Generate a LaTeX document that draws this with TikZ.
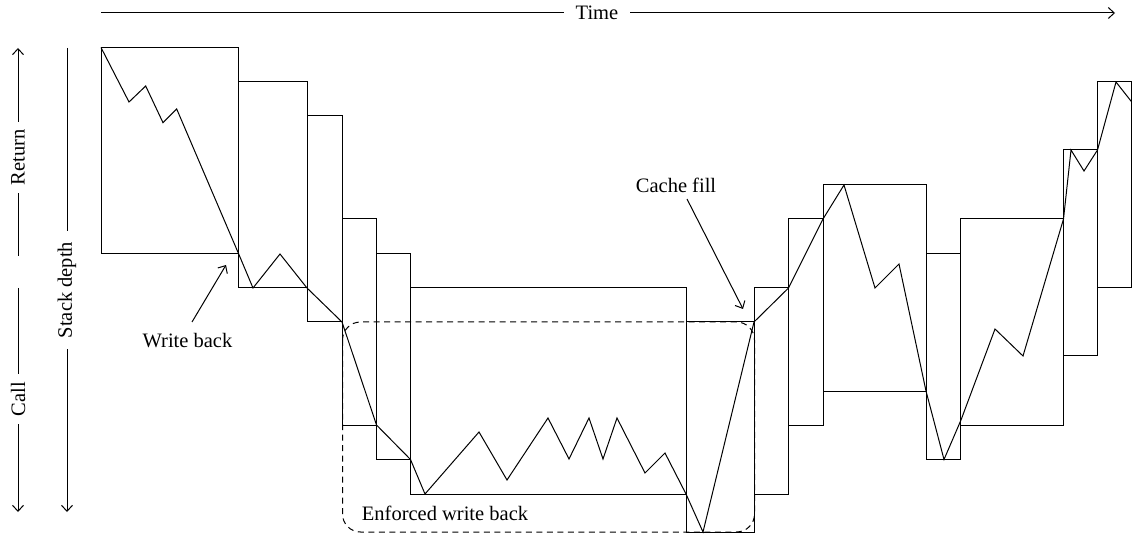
\documentclass[tikz,border=0pt]{standalone}
\usepackage{fontspec}
\setmainfont{Liberation Serif}
\usetikzlibrary{arrows.meta}
\begin{document}
\begin{tikzpicture}[x=1pt,y=-1pt,line width=1pt,
  box/.style={draw,line width=1pt},
  trace/.style={draw,line width=1pt,line join=miter},
  lbl/.style={font=\fontsize{20.5}{24}\selectfont,inner sep=0pt},
  tipped/.style={-{Straight Barb[length=6pt,width=11pt]}},
  axlbl/.style={lbl,fill=white,rotate=90,inner xsep=8pt},
  encl/.style={draw,dashed,dash pattern=on 6pt off 4.5pt,rounded corners=18pt}
]
\useasboundingbox (0,0) rectangle (1133,537);

% axes
\coordinate (tl) at (101,13);
\coordinate (tr) at (1115,13);
\draw[tipped] (tl) -- (tr);
\node[lbl,fill=white,inner xsep=12pt] (time) at (597,13) {Time};

\coordinate (rb) at (18,256);
\coordinate (rt) at (18,48);
\draw[tipped] (rb) -- (rt);
\node[axlbl] (ret) at (18,157.5) {Return};

\coordinate (ct) at (18,288);
\coordinate (cb) at (18,512);
\draw[tipped] (ct) -- (cb);
\node[axlbl] (call) at (18,399) {Call};

\coordinate (st) at (67,48);
\coordinate (sb) at (67,512);
\draw[tipped] (st) -- (sb);
\node[axlbl,inner xsep=11pt] (sd) at (67,290) {Stack depth};

% stack frames
\draw[box] (101,47.5) rectangle (238.5,253.5);
\draw[box] (238.5,82) rectangle (307,288);
\draw[box] (307,116) rectangle (342,322);
\draw[box] (342,219) rectangle (376.5,425);
\draw[box] (376.5,254) rectangle (410.5,459.5);
\draw[box] (410.5,288) rectangle (686,494);
\draw[box] (686,322) rectangle (754,532);
\draw[box] (754,288) rectangle (788.5,494);
\draw[box] (788.5,219) rectangle (823,425.5);
\draw[box] (823,185) rectangle (926,391);
\draw[box] (926,253.5) rectangle (960.5,459.5);
\draw[box] (960.5,219) rectangle (1063.5,425.5);
\draw[box] (1063.5,150) rectangle (1097.5,356);
\draw[box] (1097.5,82) rectangle (1131.5,288);

% stack depth trace
\draw[trace] (101,47.5) -- (129,102) -- (145.7,86) -- (163,122.7) -- (176.7,109)
  -- (238.5,253.5) -- (253,288) -- (280,254) -- (307,288) -- (342,322)
  -- (376.5,425) -- (410.5,459.5) -- (425,494) -- (479,432) -- (507,480)
  -- (548,418) -- (569,459) -- (589,418) -- (603,459) -- (617,418)
  -- (645,473) -- (665,453) -- (686,494) -- (703,532) -- (754,322)
  -- (788.5,288) -- (823,219) -- (844,185) -- (875,288) -- (899,264)
  -- (926,391) -- (944,459.5) -- (961,420) -- (995,329) -- (1023,356)
  -- (1063.5,219) -- (1071,150) -- (1084,171) -- (1097.5,150)
  -- (1116,82) -- (1131.5,101.7);

% enforced write back region
\draw[encl] (342.5,322) rectangle (754.5,532);
\node[lbl,anchor=base] (ewb) at (445,520.7) {Enforced write back};

% annotations
\node[lbl,anchor=base] (wb) at (187.5,347.7) {Write back};
\coordinate (wbs) at (192,322);
\coordinate (wbe) at (226,265);
\draw[tipped] (wbs) -- (wbe);

\node[lbl,anchor=base] (cf) at (676,192.3) {Cache fill};
\coordinate (cfs) at (687,199);
\coordinate (cfe) at (743,309);
\draw[tipped] (cfs) -- (cfe);
\end{tikzpicture}
\end{document}
